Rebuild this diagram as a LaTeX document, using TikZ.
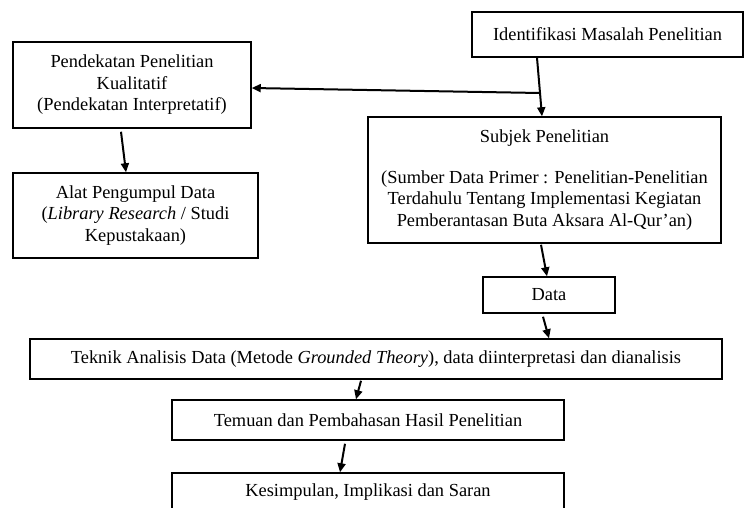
\documentclass[tikz,border=0pt]{standalone}
\usepackage{fontspec}
\setmainfont{Liberation Serif}
\usetikzlibrary{arrows.meta}
\begin{document}
\begin{tikzpicture}[x=1pt,y=-1pt,
  box/.style={draw, line width=1.5pt, inner sep=0pt, align=center, font=\fontsize{18.4}{21.5}\selectfont},
  arr/.style={line width=2pt, -{Triangle[length=9pt,width=8pt]}}]
\useasboundingbox (0,0) rectangle (747,507);
\node[box, minimum width=271, minimum height=45] (ident) at (607.5,34.5) {Identifikasi Masalah Penelitian};
\node[box, minimum width=238, minimum height=86] (pend) at (132,85) {Pendekatan Penelitian\\Kualitatif\\(Pendekatan Interpretatif)};
\node[box, minimum width=245, minimum height=85] (alat) at (135.5,215.5) {Alat Pengumpul Data\\(\textit{Library Research} / Studi\\Kepustakaan)};
\node[box, minimum width=353, minimum height=126] (subj) at (544.5,180) {Subjek Penelitian\\[19pt](Sumber Data Primer : Penelitian-Penelitian\\Terdahulu Tentang Implementasi Kegiatan\\Pemberantasan Buta Aksara Al-Qur’an)};
\node[box, minimum width=132, minimum height=36] (data) at (549,295) {Data};
\node[box, minimum width=692, minimum height=40] (tek) at (376,359) {Teknik Analisis Data (Metode \textit{Grounded Theory}), data diinterpretasi dan dianalisis};
\node[box, minimum width=392, minimum height=40] (tem) at (368,420) {Temuan dan Pembahasan Hasil Penelitian};
\node[box, minimum width=392, minimum height=38] (kes) at (368,492) {Kesimpulan, Implikasi dan Saran};
% connectors
\coordinate (j) at (540,93);
\draw[arr] (ident.south -| 537,0) -- (subj.north -| 542,0);
\draw[arr] (j) -- (pend.east |- 0,88);
\draw[arr] ([yshift=-3pt]pend.south -| 121,0) -- (alat.north -| 126,0);
\draw[arr] ([yshift=-1pt]subj.south -| 541,0) -- (data.north -| 547,0);
\draw[arr] ([yshift=-3pt]data.south -| 543,0) -- (tek.north -| 549,0);
\draw[arr] ([yshift=-1pt]tek.south -| 361,0) -- (tem.north -| 356,0);
\draw[arr] ([yshift=-3pt]tem.south -| 345,0) -- (kes.north -| 340,0);
\end{tikzpicture}
\end{document}
